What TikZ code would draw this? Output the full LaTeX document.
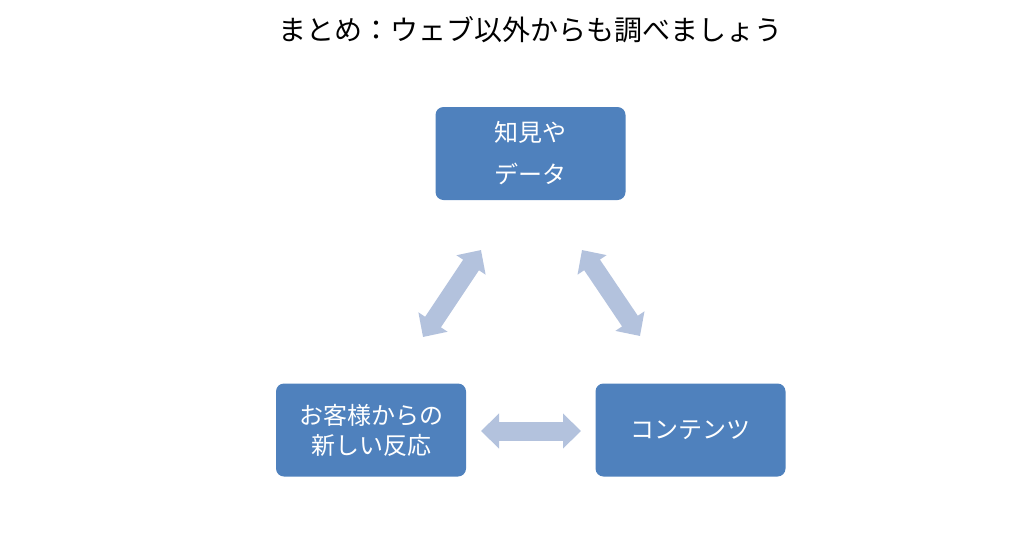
\documentclass[tikz,border=0pt]{standalone}
\usepackage{fontspec}
\newfontfamily\jpfont{Noto Sans CJK JP}
\usetikzlibrary{arrows.meta}
\definecolor{boxblue}{HTML}{4F81BD}
\definecolor{arrowblue}{HTML}{B3C2DD}
\tikzset{
  bluebox/.style={fill=boxblue, rounded corners=8pt, minimum width=190pt, minimum height=93pt,
    text=white, font=\jpfont\fontsize{24}{30}\selectfont, align=center, inner sep=0pt},
  fatarrow/.style={draw=arrowblue, line width=19pt,
    {Triangle[length=18pt,width=34pt]}-{Triangle[length=18pt,width=34pt]}}
}
\begin{document}
\begin{tikzpicture}[x=1pt,y=-1pt]
\useasboundingbox (0,0) rectangle (1024,536);
\node[font=\jpfont\fontsize{28}{30}\selectfont, text=black] (title) at (530,30) {まとめ：ウェブ以外からも調べましょう};
\node[bluebox, font=\jpfont\fontsize{24}{42}\selectfont] (data) at (530.5,153.5) {知見や\\データ};
\node[bluebox] (resp) at (371,430) {お客様からの\\新しい反応};
\node[bluebox] (cont) at (690.5,430) {コンテンツ};
\coordinate (l1) at (423,337);
\coordinate (l2) at (481,250);
\coordinate (r1) at (582,250);
\coordinate (r2) at (640,336);
\coordinate (h1) at (481,431);
\coordinate (h2) at (581,431);
\draw[fatarrow] (l1) -- (l2);
\draw[fatarrow] (r1) -- (r2);
\draw[fatarrow] (h1) -- (h2);
\end{tikzpicture}
\end{document}
